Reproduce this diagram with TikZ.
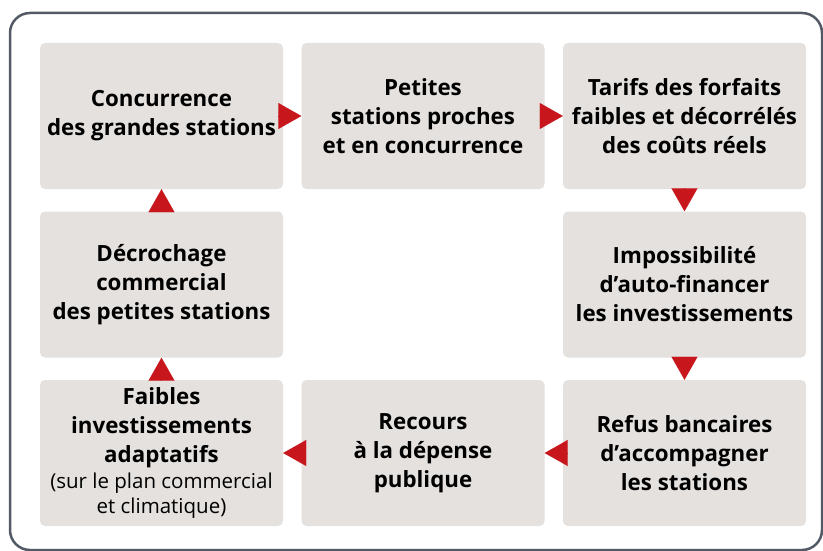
\documentclass[tikz,border=0pt]{standalone}
\usepackage{fontspec}
\setmainfont{Open Sans}
\usetikzlibrary{arrows.meta}

\definecolor{boxgray}{HTML}{E4E1DF}
\definecolor{arrowred}{HTML}{C8161D}
\definecolor{framegray}{HTML}{535A66}

\newcommand{\smalltxt}{\mdseries\fontsize{20.5}{25}\selectfont}

\begin{document}
\begin{tikzpicture}[
		x=1pt, y=-1pt,
		stepbox/.style={rectangle, fill=boxgray, rounded corners=5pt,
			minimum width=243pt, minimum height=146pt, align=center,
			inner sep=0pt, font=\bfseries\fontsize{22.3}{29}\selectfont},
		arr/.style={-{Triangle[length=23pt,width=26pt]}, draw=arrowred,
			fill=arrowred, line width=0.1pt, shorten <=-4pt},
	]
		\useasboundingbox (0, 0) rectangle (823, 551);
		\draw [framegray, line width=2.5pt, rounded corners=20pt] (10, 13) rectangle (822, 550);

		% boxes
		\node [stepbox] (conc) at (161.5, 116) {Concurrence\\des grandes stations};
		\node [stepbox] (petites) at (423, 116) {Petites\\stations proches\\et en concurrence};
		\node [stepbox] (tarifs) at (684.5, 116) {Tarifs des forfaits\\faibles et décorrélés\\des coûts réels};
		\node [stepbox] (decro) at (161.5, 284.5) {Décrochage\\commercial\\des petites stations};
		\node [stepbox] (impo) at (684.5, 284.5) {Impossibilité\\d’auto-financer\\les investissements};
		\node [stepbox] (faibles) at (161.5, 453) {Faibles\\investissements\\adaptatifs\\[-3pt]\smalltxt (sur le plan commercial\\[-4pt]\smalltxt et climatique)};
		\node [stepbox] (recours) at (423, 453) {Recours\\à la dépense\\publique};
		\node [stepbox] (refus) at (684.5, 453) {Refus bancaires\\d’accompagner\\les stations};

		% arrows
		\path [arr] (conc) edge (petites);
		\path [arr] (petites) edge (tarifs);
		\path [arr] (tarifs) edge (impo);
		\path [arr] (impo) edge (refus);
		\path [arr] (refus) edge (recours);
		\path [arr] (recours) edge (faibles);
		\path [arr] (faibles) edge (decro);
		\path [arr] (decro) edge (conc);
	\end{tikzpicture}
\end{document}
